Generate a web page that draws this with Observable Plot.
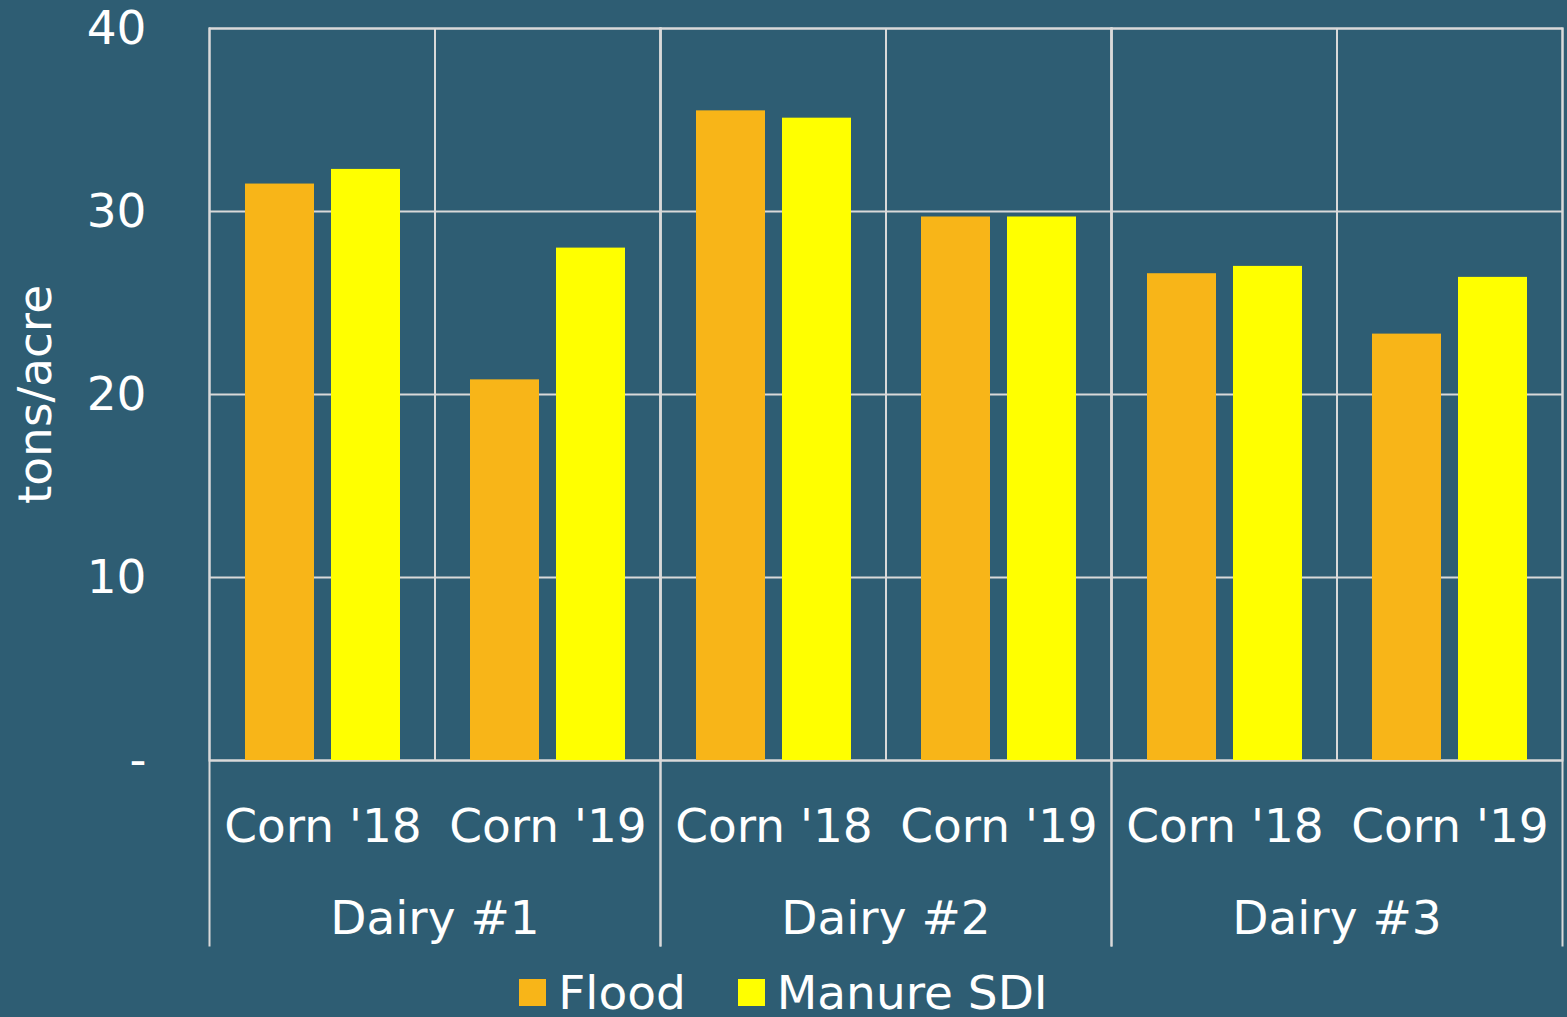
<!DOCTYPE html>
<html>
<head>
<meta charset="utf-8">
<script src="https://cdn.jsdelivr.net/npm/d3@7"></script>
<script src="https://cdn.jsdelivr.net/npm/@observablehq/plot@0.6"></script>
<style>
  html, body { margin: 0; padding: 0; background: #2E5D73; }
  #chart svg { display: block; }
  #legend { height: 64px; display: flex; align-items: center; justify-content: center; line-height: 1; }
  #legend > div { line-height: 1; }
  #legend span { line-height: 1; }
  #legend span svg { margin-right: 12px !important; }
  #legend span { margin-right: 52px !important; }
  #legend span:last-child { margin-right: 0 !important; }
</style>
</head>
<body>
<div id="chart"></div>
<div id="legend"></div>
<script>
const dairies = ["Dairy #1", "Dairy #2", "Dairy #3"];
const crops = ["Corn '18", "Corn '19"];
const series = ["Flood", "Manure SDI"];
const colors = ["#F8B518", "#FFFF00"];
// order: Dairy #1 (Corn '18, Corn '19), Dairy #2 (...), Dairy #3 (...)
const floodValues = [31.5, 20.8, 35.5, 29.7, 26.6, 23.3];
const manureValues = [32.3, 28.0, 35.1, 29.7, 27.0, 26.4];
const yTicks = [0, 10, 20, 30, 40];

const rows = [];
dairies.forEach((d, i) => crops.forEach((c, j) => {
  const k = i * crops.length + j;
  rows.push({dairy: d, crop: c, series: series[0], value: floodValues[k]});
  rows.push({dairy: d, crop: c, series: series[1], value: manureValues[k]});
}));

const font = "DejaVu Sans, Verdana, sans-serif";
const grid = "#D9D9D9";
const fs = 47;

const plot = Plot.plot({
  width: 1567,
  height: 960,
  marginLeft: 208,
  marginRight: 4,
  marginTop: 28,
  marginBottom: 200,
  style: {background: "#2E5D73", color: "white", fontFamily: font, fontSize: fs + "px", overflow: "visible"},
  fx: {domain: dairies, padding: 0},
  x: {domain: crops, padding: 0},
  y: {domain: [0, 40]},
  color: {domain: series, range: colors},
  marks: [
    Plot.gridY(yTicks, {stroke: grid, strokeOpacity: 1, strokeWidth: 2}),
    Plot.frame({stroke: grid, strokeWidth: 2}),
    Plot.frame({anchor: "left", stroke: grid, strokeWidth: 2, insetBottom: -185}),
    Plot.frame({anchor: "right", stroke: grid, strokeWidth: 2, insetBottom: -185}),
    Plot.ruleX([null], {x: null, stroke: grid, strokeWidth: 2}),
    Plot.barY(rows.filter(r => r.series === series[0]), {fx: "dairy", x: "crop", y: "value", fill: colors[0], insetLeft: 35, insetRight: 121}),
    Plot.barY(rows.filter(r => r.series === series[1]), {fx: "dairy", x: "crop", y: "value", fill: colors[1], insetLeft: 121, insetRight: 35}),
    Plot.axisY(yTicks, {
      tickSize: 0, tickPadding: 63, fontSize: fs, fill: "white",
      tickFormat: d => d === 0 ? "-" : String(d),
      label: "tons/acre", labelAnchor: "center", labelArrow: "none", labelOffset: 192
    }),
    Plot.axisX({tickSize: 0, tickPadding: 48, fontSize: fs, fill: "white", label: null}),
    Plot.axisFx({anchor: "bottom", tickSize: 0, tickPadding: 140, fontSize: fs, fill: "white", label: null})
  ]
});
document.getElementById("chart").appendChild(plot);

const legend = Plot.legend({
  color: {domain: series, range: colors},
  swatchSize: 27,
  style: {fontFamily: font, fontSize: fs + "px", color: "white", background: "transparent", marginBottom: 0, minHeight: 0}
});
document.getElementById("legend").appendChild(legend);
</script>
</body>
</html>
